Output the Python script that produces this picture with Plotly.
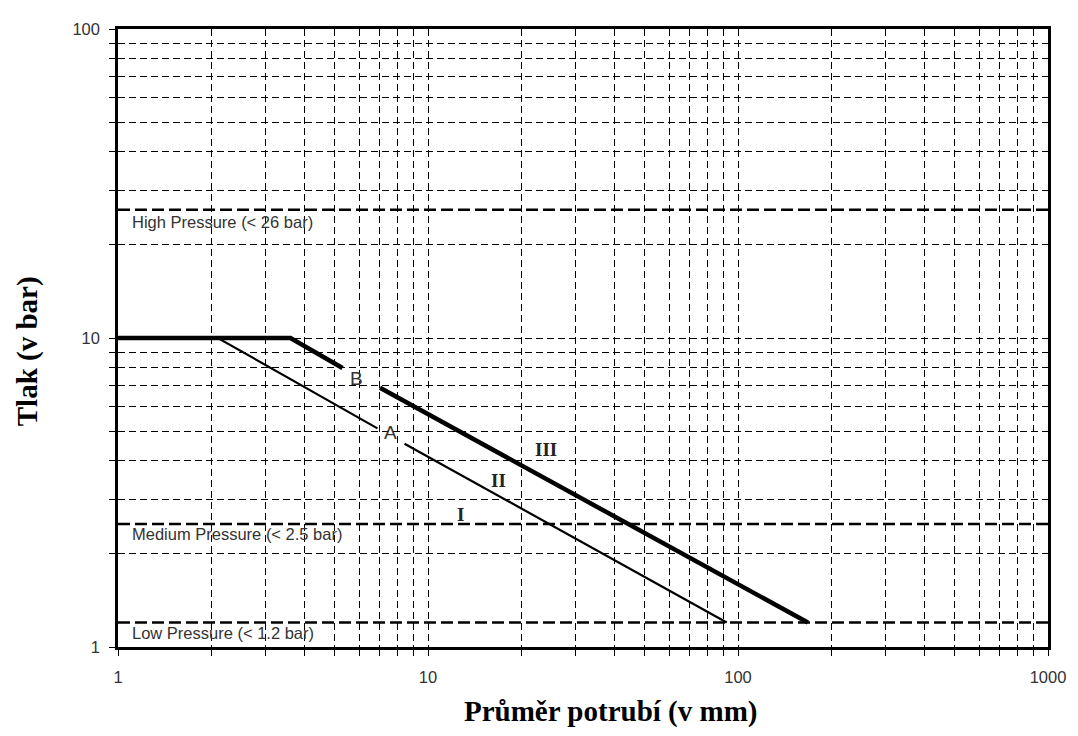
import numpy as np
import plotly.graph_objects as go

# ---- data ----
x_ticks = [1, 10, 100, 1000]
y_ticks = [1, 10, 100]
minor_x = [m * d for d in [1, 10, 100] for m in range(2, 10)]
minor_y = [m * d for d in [1, 10] for m in range(2, 10)]

# curve III (thick, through B)
c3a_x = [1, 3.6, 5.3]
c3a_y = [10, 10, 8.0]
c3b_x = [7.0, 168]
c3b_y = [6.9, 1.2]

# curve I/II (thin, through A)
c2a_x = [1, 2.1, 6.87]
c2a_y = [10, 10, 5.1]
c2b_x = [8.4, 92]
c2b_y = [4.55, 1.2]

pressure_levels = [26, 2.5, 1.2]
pressure_labels = ["High Pressure (< 26 bar)", "Medium Pressure (< 2.5 bar)", "Low Pressure (< 1.2 bar)"]
pressure_label_y = [23.8, 2.317, 1.109]

point_labels = ["B", "A"]
point_x = [5.89, 7.56]
point_y = [7.37, 4.95]

zone_labels = ["III", "II", "I"]
zone_x = [24.0, 16.9, 12.75]
zone_y = [4.37, 3.47, 2.68]

fig = go.Figure()

for lv in pressure_levels:
    fig.add_trace(go.Scatter(x=[1, 1000], y=[lv, lv], mode="lines",
                             line=dict(color="black", width=2.5, dash="12px,5px"),
                             hoverinfo="skip", showlegend=False))

fig.add_trace(go.Scatter(x=c2a_x, y=c2a_y, mode="lines", line=dict(color="black", width=2.2), showlegend=False))
fig.add_trace(go.Scatter(x=c2b_x, y=c2b_y, mode="lines", line=dict(color="black", width=2.2), showlegend=False))
fig.add_trace(go.Scatter(x=c3a_x, y=c3a_y, mode="lines", line=dict(color="black", width=4.5), showlegend=False))
fig.add_trace(go.Scatter(x=c3b_x, y=c3b_y, mode="lines", line=dict(color="black", width=4.5), showlegend=False))

annotations = []
for lab, yv in zip(pressure_labels, pressure_label_y):
    annotations.append(dict(x=np.log10(1.092), y=np.log10(yv), xref="x", yref="y", text=lab,
                            showarrow=False, xanchor="left", yanchor="middle",
                            font=dict(family="Liberation Sans, Arial", size=16.5, color="#333")))
for lab, xv, yv in zip(point_labels, point_x, point_y):
    annotations.append(dict(x=np.log10(xv), y=np.log10(yv), xref="x", yref="y", text=lab,
                            showarrow=False, xanchor="center", yanchor="middle",
                            font=dict(family="Liberation Sans, Arial", size=19, color="#333")))
for lab, xv, yv in zip(zone_labels, zone_x, zone_y):
    annotations.append(dict(x=np.log10(xv), y=np.log10(yv), xref="x", yref="y", text="<b>" + lab + "</b>",
                            showarrow=False, xanchor="center", yanchor="middle",
                            font=dict(family="Liberation Serif, Times New Roman", size=19, color="#222")))

annotations.append(dict(x=(615 - 118) / 939, y=(647 - 712) / 625, xref="paper", yref="paper",
                        text="<b>Průměr potrubí (v mm)</b>", showarrow=False,
                        xanchor="center", yanchor="middle",
                        font=dict(family="Liberation Serif, Times New Roman", size=29, color="black")))
annotations.append(dict(x=(26 - 118) / 939, y=(647 - 348) / 625, xref="paper", yref="paper",
                        text="<b>Tlak (v bar)</b>", showarrow=False, textangle=-90,
                        xanchor="center", yanchor="middle",
                        font=dict(family="Liberation Serif, Times New Roman", size=29, color="black")))

axis_common = dict(
    type="log", showline=True, linewidth=2.5, linecolor="black", mirror=True,
    ticks="outside", ticklen=6, tickwidth=1, tickcolor="black",
    showgrid=True, gridcolor="black", gridwidth=1, griddash="7px,4px",
    zeroline=False,
    tickfont=dict(family="Liberation Sans, Arial", size=16.5, color="#333"),
)

# page body has an 8px margin, so the figure is 8px smaller and margins shifted
fig.update_layout(
    width=1070, height=728,
    margin=dict(l=110, r=21, t=14, b=89),
    paper_bgcolor="white", plot_bgcolor="white",
    showlegend=False,
    annotations=annotations,
    xaxis=dict(**axis_common, range=[0, 3], tickvals=x_ticks, ticktext=[str(v) for v in x_ticks],
               ticklabelstandoff=7,
               minor=dict(tickvals=minor_x, ticks="outside", ticklen=6, tickcolor="black",
                          showgrid=True, gridcolor="black", gridwidth=1, griddash="7px,4px")),
    yaxis=dict(**axis_common, range=[0, 2], tickvals=y_ticks, ticktext=[str(v) for v in y_ticks],
               ticklabelstandoff=6,
               minor=dict(tickvals=minor_y, ticks="outside", ticklen=6, tickcolor="black",
                          showgrid=True, gridcolor="black", gridwidth=1, griddash="7px,4px")),
)

fig.write_html("out.html")
